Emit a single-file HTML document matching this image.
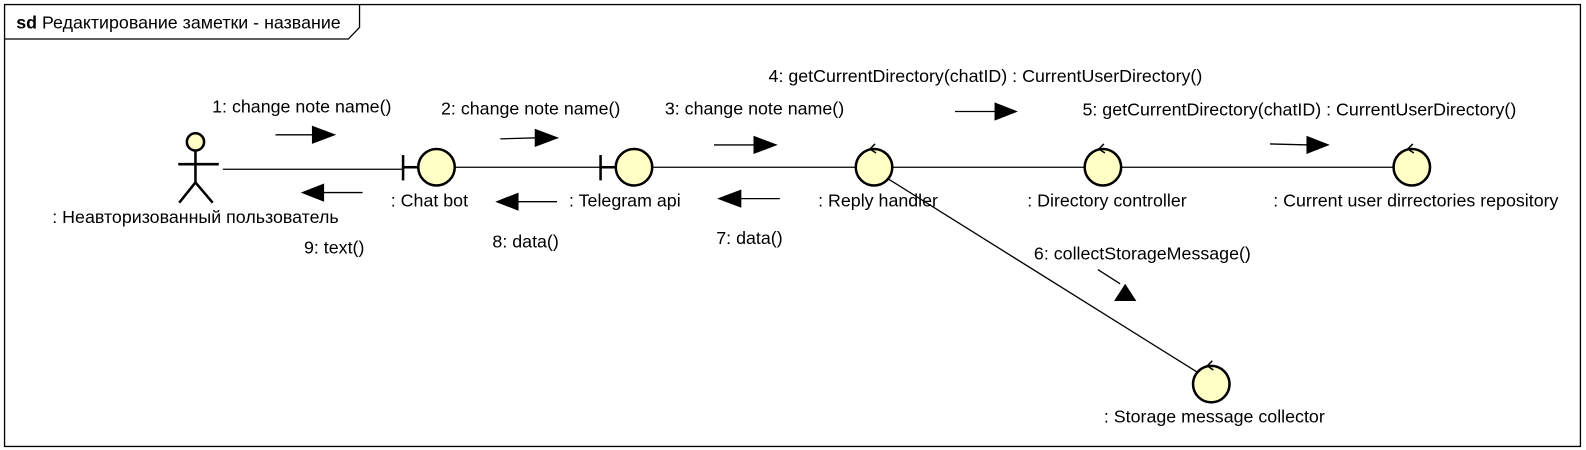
<!DOCTYPE html>
<html><head><meta charset="utf-8"><style>
html,body{margin:0;padding:0;background:#fff;}
svg{display:block;}
text{font-family:"Liberation Sans","DejaVu Sans",sans-serif;font-size:17.6px;fill:#000;}
</style></head><body>
<svg width="1586" height="450" viewBox="0 0 1566 444" preserveAspectRatio="none" xmlns="http://www.w3.org/2000/svg">
<defs>
<g id="ctl"><circle r="18" fill="#ffffc6" stroke="#000" stroke-width="2.5"/><path d="M1,-23 L-4,-18 L2,-14" fill="none" stroke="#000" stroke-width="1.5"/></g>
</defs>
<rect x="4.5" y="4.5" width="1556" height="436" fill="#fff" stroke="#000" stroke-width="1.3"/>
<path d="M4.5,38.5 H344 L355,27 V4.5" fill="none" stroke="#000" stroke-width="1.3"/>
<text x="16" y="28"><tspan font-weight="bold">sd</tspan> Редактирование заметки - название</text>

<g stroke="#000" stroke-width="1.3" fill="none">
<line x1="220" y1="167" x2="398" y2="167"/>
<line x1="448" y1="165" x2="593" y2="165"/>
<line x1="643" y1="165" x2="1394" y2="165"/>
<line x1="873" y1="174" x2="1185" y2="369"/>
</g>

<g stroke="#000" stroke-width="2.5" fill="none">
<circle cx="193" cy="140" r="8.5" fill="#ffffc6"/>
<line x1="193" y1="149" x2="193" y2="180"/>
<line x1="176" y1="162" x2="216" y2="162"/>
<line x1="193" y1="180" x2="177" y2="200"/>
<line x1="193" y1="180" x2="210" y2="200"/>
</g>
<text x="193" y="220" text-anchor="middle">: Неавторизованный пользователь</text>

<g stroke="#000" stroke-width="2.5">
<line x1="398" y1="153" x2="398" y2="178"/><line x1="398" y1="165" x2="413" y2="165"/>
<line x1="593" y1="153" x2="593" y2="178"/><line x1="593" y1="165" x2="608" y2="165"/>
</g>
<circle cx="431" cy="165" r="18" fill="#ffffc6" stroke="#000" stroke-width="2.5"/>
<circle cx="626" cy="165" r="18" fill="#ffffc6" stroke="#000" stroke-width="2.5"/>
<text x="424" y="204" text-anchor="middle">: Chat bot</text>
<text x="617" y="204" text-anchor="middle">: Telegram api</text>

<use href="#ctl" x="863" y="165"/>
<use href="#ctl" x="1089" y="165"/>
<use href="#ctl" x="1394" y="165"/>
<use href="#ctl" x="1196" y="379"/>
<text x="867" y="204" text-anchor="middle">: Reply handler</text>
<text x="1093" y="204" text-anchor="middle">: Directory controller</text>
<text x="1398" y="204" text-anchor="middle">: Current user dirrectories repository</text>
<text x="1199" y="417" text-anchor="middle">: Storage message collector</text>

<g stroke="#000" stroke-width="1.3">
<line x1="272" y1="133" x2="310" y2="133"/>
<line x1="494" y1="137" x2="530" y2="136"/>
<line x1="705" y1="143" x2="746" y2="143"/>
<line x1="943" y1="110" x2="984" y2="110"/>
<line x1="1254" y1="142" x2="1292" y2="143"/>
<line x1="1084" y1="266" x2="1106" y2="280"/>
<line x1="730" y1="196" x2="770" y2="196"/>
<line x1="510" y1="199" x2="550" y2="199"/>
<line x1="318" y1="190" x2="358" y2="190"/>
</g>
<g fill="#000">
<polygon points="308,124 332,133 308,142"/>
<polygon points="528,127 552,136 528,145"/>
<polygon points="744,134 768,143 744,152"/>
<polygon points="982,101 1005,110 982,119"/>
<polygon points="1290,134 1313,143 1290,152"/>
<polygon points="1100,297 1122,297 1111,280"/>
<polygon points="732,187 708,196 732,205"/>
<polygon points="512,190 489,199 512,208"/>
<polygon points="320,181 297,190 320,199"/>
</g>
<text x="298" y="111" text-anchor="middle">1: change note name()</text>
<text x="524" y="113" text-anchor="middle">2: change note name()</text>
<text x="745" y="113" text-anchor="middle">3: change note name()</text>
<text x="973" y="81" text-anchor="middle">4: getCurrentDirectory(chatID) : CurrentUserDirectory()</text>
<text x="1283" y="114" text-anchor="middle">5: getCurrentDirectory(chatID) : CurrentUserDirectory()</text>
<text x="1128" y="256" text-anchor="middle">6: collectStorageMessage()</text>
<text x="740" y="241" text-anchor="middle">7: data()</text>
<text x="519" y="244" text-anchor="middle">8: data()</text>
<text x="330" y="250" text-anchor="middle">9: text()</text>
</svg>
</body></html>
